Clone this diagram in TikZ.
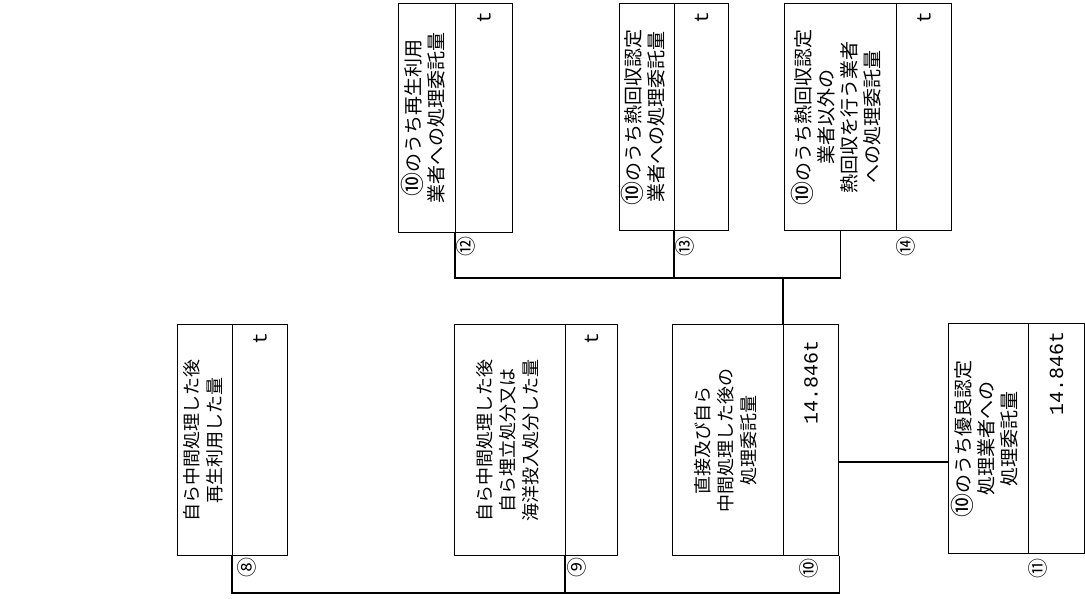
\documentclass[tikz,border=0pt]{standalone}
\usepackage{fontspec}
\usepackage{graphicx}
\newfontfamily\jpf{Noto Sans CJK JP}
\newfontfamily\numf{Liberation Mono}
\newcommand\rtxt[2]{\rotatebox{90}{\jpf\fontsize{#1}{23}\selectfont\begin{tabular}{@{}c@{}}#2\end{tabular}}}
\newcommand\rval[2]{\rotatebox{90}{\makebox[#1][r]{\numf\fontsize{20}{20}\selectfont #2}}}
\newcommand\circn[1]{\rotatebox{90}{\jpf\fontsize{20}{20}\selectfont #1}}
\newcommand\cten{\smash{\raisebox{-1pt}{\fontsize{24}{24}\selectfont ⑩}}}
\begin{document}
\begin{tikzpicture}[x=1pt,y=-1pt]
\tikzset{
  part/.style={draw=black, line width=1.2pt, inner sep=0pt, anchor=north west},
  conn/.style={line width=1.1pt},
  numlab/.style={inner sep=0pt}
}
\useasboundingbox (0,0) rectangle (1085,599);
% bottom row
\node[part, minimum width=55pt, minimum height=231pt] (b8t) at (177,324) {\rtxt{18}{自ら中間処理した後\\再生利用した量}};
\node[part, minimum width=55pt, minimum height=231pt] (b8v) at (232,324) {\rval{215pt}{t}};
\node[part, minimum width=111pt, minimum height=231pt] (b9t) at (454,324) {\rtxt{18}{自ら中間処理した後\\自ら埋立処分又は\\海洋投入処分した量}};
\node[part, minimum width=52pt, minimum height=231pt] (b9v) at (565,324) {\rval{215pt}{t}};
\node[part, minimum width=111pt, minimum height=231pt] (b10t) at (672,324) {\rtxt{18}{直接及び自ら\\中間処理した後の\\処理委託量}};
\node[part, minimum width=55pt, minimum height=231pt] (b10v) at (783,324) {\rval{200pt}{14.846t}};
\node[part, minimum width=80pt, minimum height=230pt] (b11t) at (948,323) {\rtxt{19}{\cten のうち優良認定\\処理業者への\\処理委託量}};
\node[part, minimum width=56pt, minimum height=230pt] (b11v) at (1028,323) {\rval{214pt}{14.846t}};
% top row
\node[part, minimum width=57pt, minimum height=229pt] (b12t) at (398,3) {\rtxt{19}{\cten のうち再生利用\\業者への処理委託量}};
\node[part, minimum width=57pt, minimum height=229pt] (b12v) at (455,3) {\rval{213pt}{t}};
\node[part, minimum width=55pt, minimum height=227pt] (b13t) at (619,3) {\rtxt{19}{\cten のうち熱回収認定\\業者への処理委託量}};
\node[part, minimum width=54pt, minimum height=227pt] (b13v) at (674,3) {\rval{211pt}{t}};
\node[part, minimum width=112pt, minimum height=227pt] (b14t) at (784,3) {\rtxt{19}{\cten のうち熱回収認定\\業者以外の\\熱回収を行う業者\\への処理委託量}};
\node[part, minimum width=55pt, minimum height=227pt] (b14v) at (896,3) {\rval{211pt}{t}};
% circled numbers
\node[numlab] (n8) at (247,567) {\circn{⑧}};
\node[numlab] (n9) at (577,567) {\circn{⑨}};
\node[numlab] (n10) at (809,568) {\circn{⑩}};
\node[numlab] (n11) at (1038,568) {\circn{⑪}};
\node[numlab] (n12) at (466,246) {\circn{⑫}};
\node[numlab] (n13) at (685,246) {\circn{⑬}};
\node[numlab] (n14) at (906,246) {\circn{⑭}};
% connectors
\coordinate (busT) at (0,278);
\coordinate (busB) at (0,593);
\coordinate (mid) at (0,462);
\draw[conn] (b12v.south west) -- (b12v.south west |- busT) -- (b14t.south |- busT) -- (b14t.south);
\draw[conn] (b13v.south west) -- (b13v.south west |- busT);
\draw[conn] (b10v.north west |- busT) -- (b10v.north west);
\draw[conn] (b8v.south west) -- (b8v.south west |- busB) -- (b10v.south east |- busB) -- (b10v.south east);
\draw[conn] (b9v.south west) -- (b9v.south west |- busB);
\draw[conn] (b10v.east |- mid) -- (b11t.west |- mid);
\end{tikzpicture}
\end{document}
